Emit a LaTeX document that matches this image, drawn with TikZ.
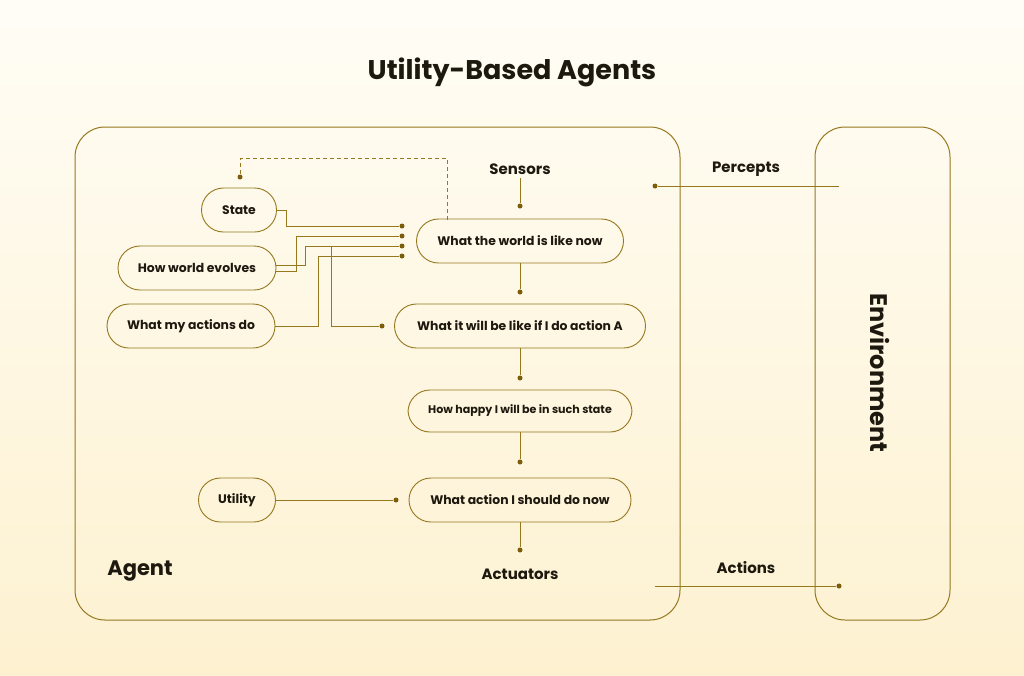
\documentclass[tikz,border=0pt]{standalone}
\usepackage{fontspec}
\setmainfont{Poppins}
\usetikzlibrary{positioning}
\definecolor{olive}{RGB}{150,120,30}
\definecolor{dotc}{RGB}{125,92,10}
\definecolor{bgtop}{RGB}{255,253,246}
\definecolor{bgbot}{RGB}{253,241,208}
\definecolor{ink}{RGB}{30,25,15}
\begin{document}
\begin{tikzpicture}[
    x=1pt, y=-1pt,
    box/.style = {draw=olive, line width=0.9pt, rounded corners=22pt, minimum height=44pt, text=ink,
                  font=\fontsize{12.4}{14}\selectfont\bfseries},
    lbl/.style = {text=ink, font=\fontsize{15}{17}\selectfont\bfseries},
    big/.style = {text=ink, font=\fontsize{27}{30}\selectfont\bfseries},
    pil/.style = {draw=olive, line width=0.8pt},
    dot/.style = {circle, fill=dotc, inner sep=0pt, minimum size=5pt}
    ]
  \shade[top color=bgtop, bottom color=bgbot] (0,0) rectangle (1024,675);
  \useasboundingbox (0,0) rectangle (1024,675);

  \node[big] (title) at (512,72) {Utility-Based Agents};
  \draw[olive, line width=1pt, rounded corners=30pt] (75,127) rectangle (680,620);
  \draw[olive, line width=1pt, rounded corners=30pt] (815,127) rectangle (950,620);
  \node[big, rotate=-90, font=\fontsize{24}{27}\selectfont\bfseries] (env) at (880,373) {Environment};
  \node[big, font=\fontsize{21}{24}\selectfont\bfseries] (agent) at (140,571) {Agent};

  % main column
  \node[lbl] (sens) at (520,169) {Sensors};
  \node[dot] (d1) at (520,206) {};
  \node[box, minimum width=207pt] (world) at (520,241) {What the world is like now};
  \node[dot] (d2) at (520,292) {};
  \node[box, minimum width=251pt] (willbe) at (520,326) {What it will be like if I do action A};
  \node[dot] (d3) at (520,378) {};
  \node[box, minimum width=224pt, minimum height=42pt, font=\fontsize{11.1}{13}\selectfont\bfseries] (happy) at (520,411) {How happy I will be in such state};
  \node[dot] (d4) at (520,462) {};
  \node[box, minimum width=222pt] (act) at (520,500) {What action I should do now};
  \node[dot] (d5) at (520,550) {};
  \node[lbl] (actu) at (520,574) {Actuators};

  % left column
  \node[box, minimum width=75pt] (state) at (239,210) {State};
  \node[box, minimum width=158pt] (evolve) at (197,268) {How world evolves};
  \node[box, minimum width=168pt] (mydo) at (191,326) {What my actions do};
  \node[box, minimum width=77pt] (util) at (237,500) {Utility};

  % dots feeding the world model
  \node[dot] (w1) at (402,226) {};
  \node[dot] (w2) at (402,236) {};
  \node[dot] (w3) at (402,246) {};
  \node[dot] (w4) at (402,256) {};
  \node[dot] (wa) at (382,326) {};
  \node[dot] (su) at (240,177) {};
  \node[dot] (ua) at (396,500) {};
  \coordinate (br) at (331,246);

  % percepts / actions
  \node[lbl] (perc) at (746,169) {Percepts};
  \node[lbl] (acts) at (746,568) {Actions};
  \node[dot] (pd) at (655,186) {};
  \coordinate (pe) at (839,186);
  \coordinate (as) at (655,586);
  \node[dot] (ad) at (839,586) {};

  \draw[pil] (sens) -- (d1);
  \draw[pil] (world) -- (d2);
  \draw[pil] (willbe) -- (d3);
  \draw[pil] (happy) -- (d4);
  \draw[pil] (act) -- (d5);
  \draw[pil] (state.east) -| (286,226) -- (w1);
  \draw[pil] ([yshift=-3pt]evolve.east) -| (296,236) -- (w2);
  \draw[pil] ([yshift=3pt]evolve.east) -| (305,246) -- (w3);
  \draw[pil] (mydo.east) -| (318,256) -- (w4);
  \draw[pil] (br) |- (wa);
  \draw[pil, dash pattern=on 4pt off 3pt] (447,219.5) -- (447,158) -| (su);
  \draw[pil] (util) -- (ua);
  \draw[pil] (pe) -- (pd);
  \draw[pil] (as) -- (ad);
\end{tikzpicture}
\end{document}
